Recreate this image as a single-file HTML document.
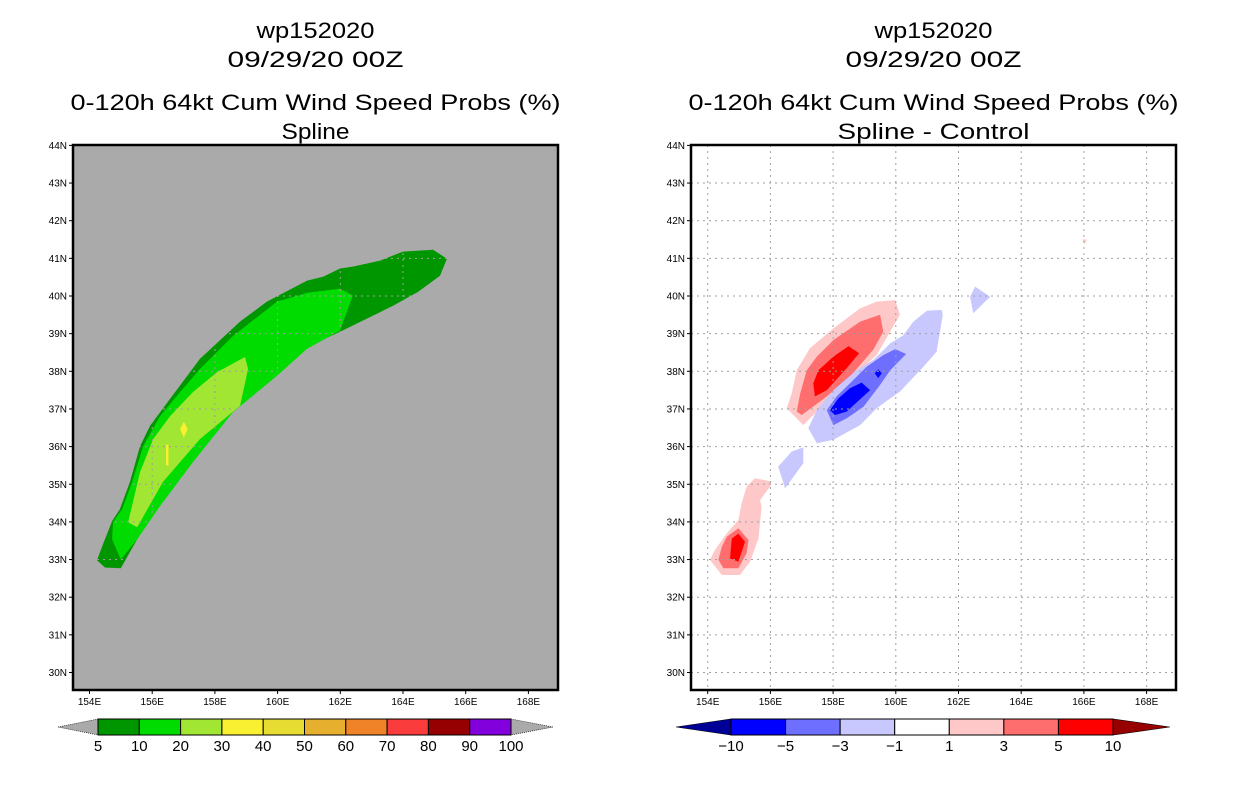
<!DOCTYPE html>
<html><head><meta charset="utf-8"><style>
html,body{margin:0;padding:0;background:#fff;}
svg{display:block;font-family:"Liberation Sans",sans-serif;}
</style></head><body>
<svg id="c" width="1236" height="800" viewBox="0 0 1236 800" xmlns="http://www.w3.org/2000/svg"></svg>
<script>
// ---- data ----
const latTicks=[30,31,32,33,34,35,36,37,38,39,40,41,42,43,44];
const lonTicks=[154,156,158,160,162,164,166,168];
const probLevels=["5","10","20","30","40","50","60","70","80","90","100"];
const probColors=["#009600","#00dc00","#a0e632","#faf032","#e6dc32","#e6af2d","#f08228","#fa3c3c","#960000","#8200dc"];
const diffLevels=["-10","-5","-3","-1","1","3","5","10"];
const diffColors=["#0000ff","#6e6eff","#c8c8ff","#ffffff","#ffc8c8","#ff6e6e","#ff0000"];
// left panel contours [lon,lat]
const probOuter=[[154.49,32.79],[155.0,32.77],[155.52,33.54],[156.25,34.52],[157.30,35.67],[158.58,37.0],[159.98,37.98],[161.03,38.68],[161.99,39.05],[163.68,39.74],[164.48,40.11],[165.18,40.54],[165.40,40.99],[164.96,41.23],[164.0,41.18],[163.27,40.94],[162.40,40.78],[161.99,40.73],[161.45,40.51],[160.94,40.41],[159.66,39.85],[158.80,39.32],[157.52,38.33],[156.57,37.27],[155.93,36.55],[155.61,36.01],[155.29,35.06],[154.97,34.34],[154.72,34.02],[154.43,33.41],[154.24,32.98]];
const prob10=[[154.72,33.54],[155.0,33.0],[155.52,33.54],[156.25,34.42],[157.30,35.59],[158.58,36.92],[159.98,37.88],[160.94,38.6],[161.99,39.08],[162.40,40.01],[161.99,40.19],[160.97,40.09],[159.98,39.85],[158.58,38.94],[157.52,38.06],[156.79,37.35],[156.25,36.81],[155.71,36.01],[155.36,35.06],[155.04,34.34],[154.75,33.99]];
const prob20=[[155.23,33.99],[155.52,33.86],[156.34,35.06],[157.52,36.2],[158.80,37.08],[159.06,38.06],[158.96,38.38],[158.07,37.98],[157.30,37.45],[156.57,36.81],[156.03,36.2],[155.61,35.32]];
const prob30a=[[157.01,36.66],[157.13,36.47],[157.01,36.24],[156.89,36.47]];
const prob30b=[[156.44,36.05],[156.52,36.05],[156.52,35.5],[156.44,35.5]];
// right panel contours
const pinkUpper=[[156.52,37.02],[157.05,36.57],[157.48,36.93],[158.11,37.37],[158.75,37.95],[159.39,38.43],[160.13,39.50],[159.98,39.89],[159.39,39.85],[158.86,39.67],[158.01,39.14],[157.26,38.61],[156.84,38.03],[156.68,37.41]];
const medRedUpper=[[156.84,36.93],[157.0,36.84],[157.80,37.33],[158.54,37.86],[159.28,38.57],[159.60,39.05],[159.50,39.50],[158.86,39.32],[158.01,38.83],[157.48,38.39],[157.16,38.03],[156.95,37.41]];
const redUpper=[[157.42,37.33],[157.80,37.50],[158.43,38.08],[158.83,38.48],[158.49,38.67],[158.01,38.39],[157.53,38.03],[157.37,37.68]];
const lightBlue=[[157.21,36.49],[157.48,36.09],[158.01,36.18],[158.86,36.57],[159.39,37.02],[160.13,37.46],[160.88,38.12],[161.30,38.52],[161.50,39.50],[161.46,39.63],[160.99,39.61],[160.56,39.32],[160.24,38.96],[159.82,38.74],[159.28,38.30],[158.75,38.03],[158.01,37.50],[157.48,36.97]];
const medBlue=[[157.80,36.97],[158.01,36.57],[158.43,36.75],[158.97,37.06],[159.50,37.64],[159.82,38.03],[160.33,38.46],[159.98,38.59],[159.60,38.43],[159.07,38.12],[158.59,37.72],[158.11,37.33]];
const darkBlue=[[157.90,36.97],[158.06,36.84],[158.43,36.93],[159.18,37.50],[158.91,37.70],[158.54,37.55],[158.17,37.28]];
const darkBlueSpot=[[159.44,38.05],[159.55,37.95],[159.44,37.82],[159.33,37.95]];
const blueLower=[[156.25,35.47],[156.47,34.89],[157.05,35.56],[157.05,35.98],[156.68,35.87]];
const blueTopRight=[[162.37,39.98],[162.47,39.54],[163.01,39.98],[162.53,40.25]];
const pinkTiny=[[165.95,41.5],[166.1,41.5],[166.02,41.38]];
const pinkLower=[[154.07,32.99],[154.45,32.59],[155.03,32.59],[155.35,32.94],[155.62,33.56],[155.72,34.40],[155.67,34.58],[155.99,34.94],[156.04,35.07],[155.51,35.16],[155.24,34.94],[155.08,34.49],[154.98,34.05],[154.61,33.70],[154.23,33.25]];
const medRedLower=[[154.34,32.99],[154.50,32.77],[154.98,32.77],[155.24,33.17],[155.30,33.52],[154.98,33.83],[154.61,33.61],[154.45,33.34]];
const redLower=[[154.71,33.03],[154.98,32.94],[155.19,33.47],[154.98,33.69],[154.77,33.56]];

// ---- axes ----
const NS="http://www.w3.org/2000/svg";
const svg=document.getElementById('c');
function X(lon,off){return off+89.5+(lon-154)*31.35;}
function Y(lat){return 296-(lat-40)*37.65;}
function el(tag,attrs,parent){const e=document.createElementNS(NS,tag);for(const k in attrs)e.setAttribute(k,attrs[k]);(parent||svg).appendChild(e);return e;}
function pts(arr,off){return arr.map(p=>X(p[0],off).toFixed(1)+","+Y(p[1]).toFixed(1)).join(" ");}
function txt(s,x,y,size,anchor,name,len){const t=el('text',{x:x,y:y,'font-size':size,'text-anchor':anchor||'middle',fill:'#000'});if(len){t.setAttribute('textLength',len);t.setAttribute('lengthAdjust','spacingAndGlyphs');}t.textContent=s;


return t;}
function poly(arr,off,fill,name,parent){const p=el('polygon',{points:pts(arr,off),fill:fill},parent);


return p;}

function panel(off,boxX,title4,isLeft){
  const g=el('g',{});
  
  
  const cx=boxX+242.5;
  txt("wp152020",cx,38,22,'middle','title-storm-id',118);
  txt("09/29/20 00Z",cx,67,22,'middle','title-date',176);
  txt("0-120h 64kt Cum Wind Speed Probs (%)",cx,110,22,'middle','title-product',490);
  txt(title4,cx,139,22,'middle','title-model',isLeft?68:192);
  const bg=el('rect',{x:boxX,y:145,width:485,height:545,fill:isLeft?'#aaaaaa':'#ffffff'},g);
  
  
  const cid='clip'+off;
  const cp=el('clipPath',{id:cid},g);
  el('rect',{x:boxX,y:145,width:485,height:545},cp);
  const inner=el('g',{'clip-path':'url(#'+cid+')'},g);
  if(isLeft){
    poly(probOuter,off,probColors[0],'contour-5-10',inner);
    poly(prob10,off,probColors[1],'contour-10-20',inner);
    poly(prob20,off,probColors[2],'contour-20-30',inner);
    poly(prob30a,off,probColors[3],'contour-30-40',inner);
    poly(prob30b,off,probColors[3],'contour-30-40',inner);
  }else{
    poly(pinkUpper,off,diffColors[4],'contour-pos-1-3',inner);
    poly(medRedUpper,off,diffColors[5],'contour-pos-3-5',inner);
    poly(redUpper,off,diffColors[6],'contour-pos-5-10',inner);
    poly(lightBlue,off,diffColors[2],'contour-neg-1-3',inner);
    poly(medBlue,off,diffColors[1],'contour-neg-3-5',inner);
    poly(darkBlue,off,diffColors[0],'contour-neg-5-10',inner);
    poly(darkBlueSpot,off,diffColors[0],'contour-neg-5-10',inner);
    poly(blueLower,off,diffColors[2],'contour-neg-1-3',inner);
    poly(blueTopRight,off,diffColors[2],'contour-neg-1-3',inner);
    poly(pinkTiny,off,diffColors[4],'contour-pos-1-3',inner);
    poly(pinkLower,off,diffColors[4],'contour-pos-1-3',inner);
    poly(medRedLower,off,diffColors[5],'contour-pos-3-5',inner);
    poly(redLower,off,diffColors[6],'contour-pos-5-10',inner);
  }
  let gg=inner;
  if(isLeft){const gc=el('clipPath',{id:'gclip'},g);el('polygon',{points:pts(probOuter,off)},gc);gg=el('g',{'clip-path':'url(#gclip)'},inner);}
  lonTicks.forEach(l=>{const ln=el('line',{x1:X(l,off),x2:X(l,off),y1:145,y2:690,stroke:'#a0a0a0','stroke-width':1,'stroke-dasharray':'2,4'},gg);
    
    });
  latTicks.forEach(l=>{const ln=el('line',{x1:boxX,x2:boxX+485,y1:Y(l),y2:Y(l),stroke:'#a0a0a0','stroke-width':1,'stroke-dasharray':'2,4'},gg);
    
    });
  const fr=el('rect',{x:boxX,y:145,width:485,height:545,fill:'none',stroke:'#000','stroke-width':2.5},g);
  
  
  latTicks.forEach(l=>{el('line',{x1:boxX-4,x2:boxX,y1:Y(l),y2:Y(l),stroke:'#000'},g);
    txt(l+"N",boxX-6,Y(l)+3.5,10,'end','y-tick-label');});
  lonTicks.forEach(l=>{el('line',{x1:X(l,off),x2:X(l,off),y1:690,y2:694,stroke:'#000'},g);
    txt(l+"E",X(l,off),705,10,'middle','x-tick-label');});
}
panel(0,73,"Spline",true);
panel(618.2,691,"Spline - Control",false);

// left colorbar
(function(){
  const x0=98,x1=511,y0=719,y1=735,n=probColors.length,w=(x1-x0)/n;
  const t1=el('polygon',{points:`58,727 ${x0},${y0} ${x0},${y1}`,fill:'#aaaaaa',stroke:'#000','stroke-width':0.6,'stroke-dasharray':'1,1'});
  
  
  const t2=el('polygon',{points:`553,727 ${x1},${y0} ${x1},${y1}`,fill:'#aaaaaa',stroke:'#000','stroke-width':0.6,'stroke-dasharray':'1,1'});
  
  
  probColors.forEach((c,i)=>{const r=el('rect',{x:x0+i*w,y:y0,width:w,height:y1-y0,fill:c,stroke:'#000','stroke-width':1});
    
    });
  probLevels.forEach((s,i)=>txt(s,x0+i*w,751,15,'middle','colorbar-label'));
})();
// right colorbar
(function(){
  const x0=731,x1=1113,y0=719,y1=735,n=diffColors.length,w=(x1-x0)/n;
  const t1=el('polygon',{points:`676,727 ${x0},${y0} ${x0},${y1}`,fill:'#000096',stroke:'#000','stroke-width':0.6});
  
  
  const t2=el('polygon',{points:`1170,727 ${x1},${y0} ${x1},${y1}`,fill:'#960000',stroke:'#000','stroke-width':0.6});
  
  
  diffColors.forEach((c,i)=>{const r=el('rect',{x:x0+i*w,y:y0,width:w,height:y1-y0,fill:c,stroke:'#000','stroke-width':1});
    
    });
  diffLevels.forEach((s,i)=>txt(s.replace('-','\u2212'),x0+i*w,751,15,'middle','colorbar-label'));
})();
</script>
</body></html>
